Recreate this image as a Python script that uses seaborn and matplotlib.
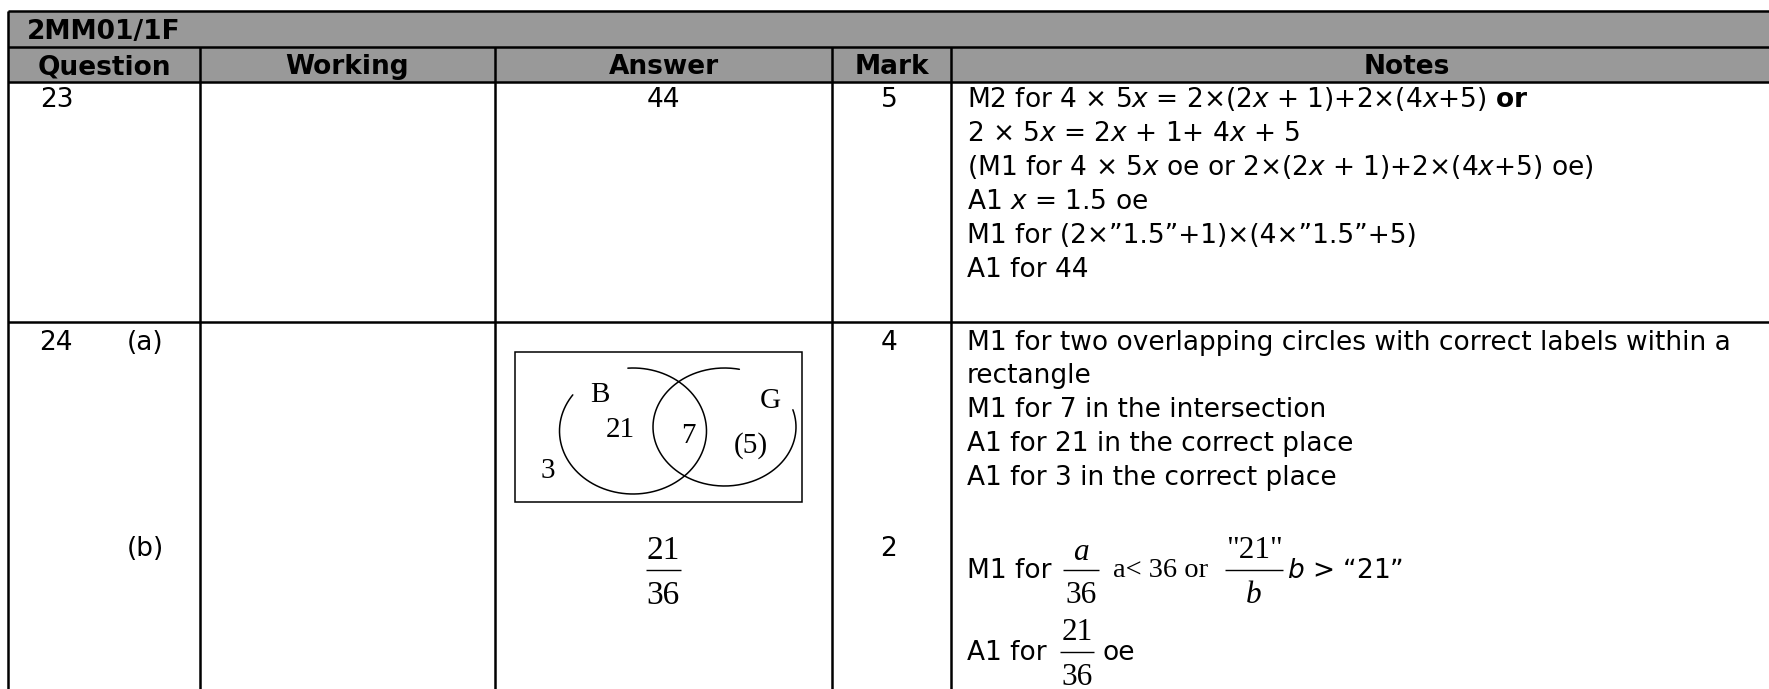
import numpy as np
import matplotlib
matplotlib.use("Agg")
import matplotlib.pyplot as plt
from matplotlib.patches import Rectangle
import seaborn as sns

# ---------------- content ----------------
title = "2MM01/1F"
headers = ["Question", "Working", "Answer", "Mark", "Notes"]
questions = ["23", "24"]
parts = ["(a)", "(b)"]
answer_23 = "44"
marks = ["5", "4", "2"]
notes_23 = [
    r"M2 for 4 × 5$x$ = 2×(2$x$ + 1)+2×(4$x$+5) $\mathbf{or}$",
    r"2 × 5$x$ = 2$x$ + 1+ 4$x$ + 5",
    r"(M1 for 4 × 5$x$ oe or 2×(2$x$ + 1)+2×(4$x$+5) oe)",
    r"A1 $x$ = 1.5 oe",
    "M1 for (2×”1.5”+1)×(4×”1.5”+5)",
    "A1 for 44",
]
notes_24a = [
    "M1 for two overlapping circles with correct labels within a",
    "rectangle",
    "M1 for 7 in the intersection",
    "A1 for 21 in the correct place",
    "A1 for 3 in the correct place",
]
venn_sets = ["B", "G"]
venn_values = ["21", "7", "(5)", "3"]
answer_b = ("21", "36")
m1_frac1 = ("a", "36")
m1_middle = "a< 36 or"
m1_frac2 = ('"21"', "b")
m1_tail = r"$b$ > “21”"
a1_frac = ("21", "36")

# ---------------- style ----------------
sns.set_theme(style="white")
plt.rcParams["font.family"] = ["DejaVu Sans"]
plt.rcParams["mathtext.fontset"] = "dejavusans"

W, H = 1769, 689
fig = plt.figure(figsize=(W / 100, H / 100), dpi=100)
ax = fig.add_axes([0, 0, 1, 1])
ax.set_xlim(0, W)
ax.set_ylim(H, 0)
ax.axis("off")

GRAY = "#999999"
LW = 1.8
col_edges = [8, 200, 495, 832, 951, 1863]
row_edges = [11, 47, 82, 322]

SANS = 19
SERIF = "Liberation Serif"


def put(x, yc, s, fs=SANS, ha="left", family="DejaVu Sans", cap=0.729, **kw):
    px = fs * 100 / 72
    ax.text(x, yc + cap * px / 2, s, fontsize=fs, ha=ha, va="baseline",
            family=family, color="black", **kw)


def frac(xc, yn, yb, yd, half, num, den, fs, num_style="normal", den_style="normal"):
    put(xc, yn, num, fs=fs, ha="center", family=SERIF, cap=0.66, style=num_style)
    put(xc, yd, den, fs=fs, ha="center", family=SERIF, cap=0.66, style=den_style)
    ax.plot([xc - half, xc + half], [yb, yb], color="black", lw=1.0,
            solid_capstyle="butt")


# ---------------- table frame ----------------
ax.add_patch(Rectangle((col_edges[0], row_edges[0]), col_edges[-1] - col_edges[0],
                       row_edges[2] - row_edges[0], fc=GRAY, ec="none", zorder=0))
ax.hlines(row_edges, col_edges[0], W + 20, colors="black", lw=LW)
ax.vlines(col_edges[0], row_edges[0], H + 20, colors="black", lw=LW)
ax.vlines(col_edges[1:5], row_edges[1], H + 20, colors="black", lw=LW)

# title and headers
put(27, 29, title, fontweight="bold")
for i, h in enumerate(headers):
    xc = (col_edges[i] + col_edges[i + 1]) / 2
    put(xc, 64.5, h, ha="center", fontweight="bold")

# question 23
put(40, 97, questions[0])
put(663, 97, answer_23, ha="center")
put(889, 97, marks[0], ha="center")
for k, line in enumerate(notes_23):
    put(967, 97 + k * 34, line)

# question 24
put(39, 340, questions[1])
put(127, 340, parts[0])
put(127, 546, parts[1])
put(889, 340, marks[1], ha="center")
put(889, 546, marks[2], ha="center")
for k, line in enumerate(notes_24a):
    put(967, 340 + k * 33.8, line)

# Venn diagram
ax.add_patch(Rectangle((515, 352), 287, 150, fc="none", ec="black", lw=1.1))
t1 = np.radians(np.linspace(266, 575, 300))
ax.plot(633 + 73.5 * np.cos(t1), 431 + 63 * np.sin(t1), color="black", lw=1.1)
t2 = np.radians(np.linspace(343, 642, 300))
ax.plot(724.5 + 71.5 * np.cos(t2), 427 + 59 * np.sin(t2), color="black", lw=1.1)
VFS = 21
put(600, 392, venn_sets[0], fs=VFS, ha="center", family=SERIF, cap=0.66)
put(770, 398, venn_sets[1], fs=VFS, ha="center", family=SERIF, cap=0.66)
put(620, 427, venn_values[0], fs=VFS, ha="center", family=SERIF, cap=0.66)
put(688, 433, venn_values[1], fs=VFS, ha="center", family=SERIF, cap=0.66)
put(751, 443, venn_values[2], fs=VFS, ha="center", family=SERIF, cap=0.66)
put(548, 468, venn_values[3], fs=VFS, ha="center", family=SERIF, cap=0.66)

# answer (b)
frac(663, 548, 570, 593, 17.5, answer_b[0], answer_b[1], 24)

# notes (b)
put(967, 568, "M1 for")
frac(1081, 550, 570, 593, 18, m1_frac1[0], m1_frac1[1], 22.5, num_style="italic")
put(1113, 568, m1_middle, fs=20.5, family=SERIF, cap=0.66)
frac(1254, 548, 570, 593, 29, m1_frac2[0], m1_frac2[1], 22.5, den_style="italic")
put(1287, 568, m1_tail)
put(967, 650, "A1 for")
frac(1077, 630, 652, 675, 17, a1_frac[0], a1_frac[1], 22.5)
put(1102, 650, "oe")

fig.savefig("out.png", dpi=100, facecolor="white")
